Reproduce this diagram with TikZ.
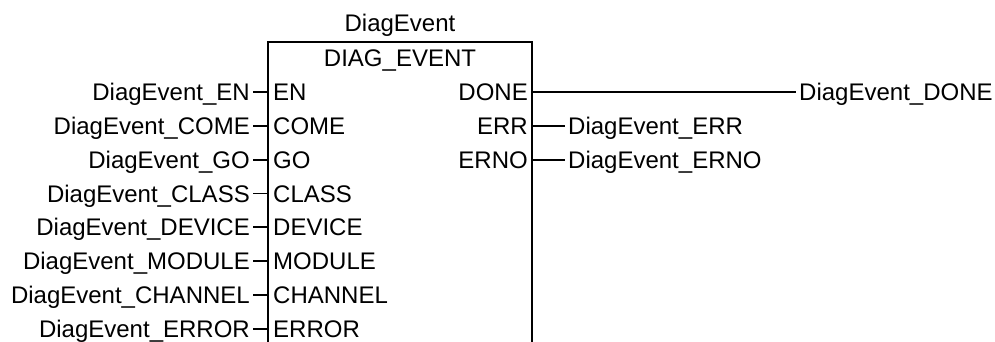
\documentclass[tikz,border=0pt]{standalone}
\usepackage{fontspec}
\setmainfont{Liberation Sans}
\begin{document}
\begin{tikzpicture}[x=1pt,y=-1pt,
  every node/.style={font=\fontsize{24}{28}\selectfont, inner xsep=3pt, inner ysep=0pt,
                     text height=17.2pt, text depth=0pt},
  wire/.style={line width=1.8pt},
  varin/.style={anchor=east},
  varout/.style={anchor=west},
  pinin/.style={anchor=west},
  pinout/.style={anchor=east}]
\clip (0,0) rectangle (995,342);
\fill[white] (0,0) rectangle (995,342);

% function block frame (open at the bottom)
\coordinate (boxL) at (268,42);
\coordinate (boxR) at (532,42);
\draw[wire] (268,360) -- (boxL) -- (boxR) -- (532,360);

% instance name and type
\node (inst) at (400,23) {DiagEvent};
\node (type) at (400,57.5) {DIAG\_EVENT};

% inputs
\foreach \pin [count=\k from 0] in {EN,COME,GO,CLASS,DEVICE,MODULE,CHANNEL,ERROR}{
  \pgfmathsetmacro{\yy}{92+33.8*\k}
  \node[pinin] (p\pin) at (270,\yy) {\pin};
  \node[varin] (v\pin) at (253,\yy) {DiagEvent\_\pin};
  \draw[wire] (v\pin.east) -- (v\pin.east -| boxL);
}

% outputs
\foreach \pin/\xx [count=\k from 0] in {DONE/796,ERR/565,ERNO/565}{
  \pgfmathsetmacro{\yy}{92+33.8*\k}
  \node[pinout] (p\pin) at (531,\yy) {\pin};
  \node[varout] (v\pin) at (\xx,\yy) {DiagEvent\_\pin};
  \draw[wire] (v\pin.west -| boxR) -- (v\pin.west);
}
\end{tikzpicture}
\end{document}
